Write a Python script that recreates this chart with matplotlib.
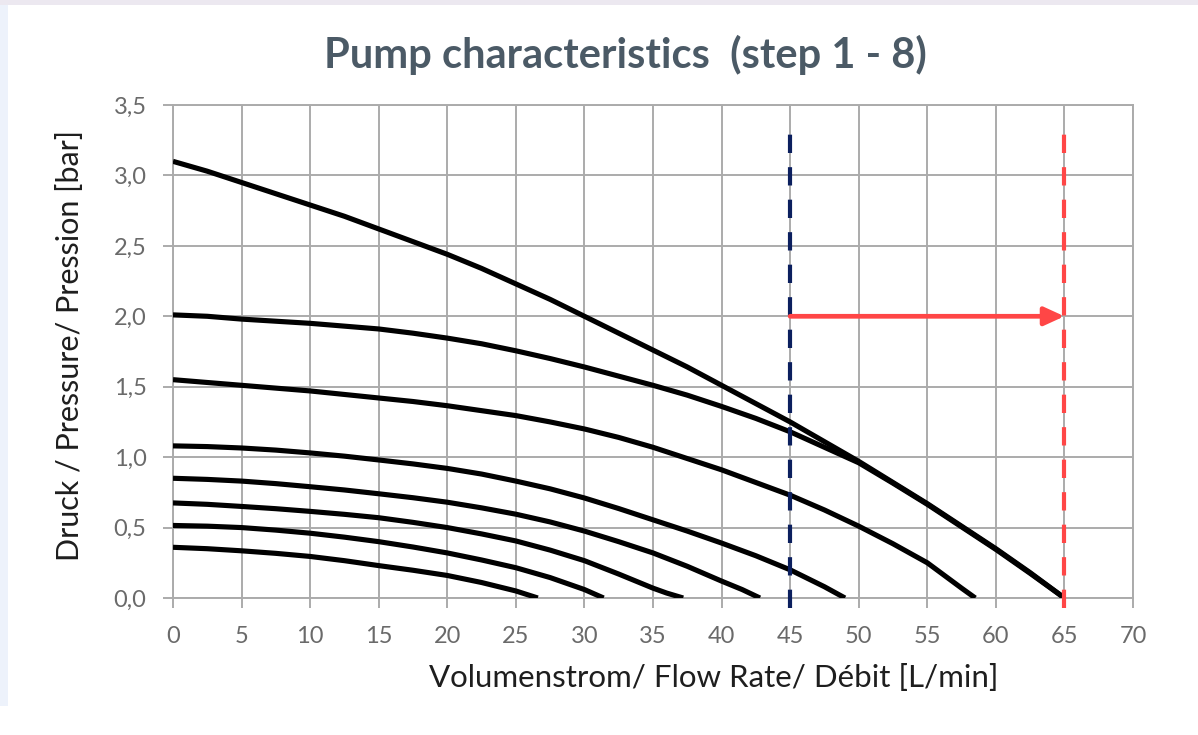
import numpy as np
import matplotlib
matplotlib.use("Agg")
import matplotlib.pyplot as plt
from matplotlib.patches import Rectangle

# pump curves, step 1 (top) to step 8 (bottom) - flow [L/min], pressure [bar]
x1 = [0, 2.5, 5, 7.5, 10, 12.5, 15, 17.5, 20, 22.5, 25, 27.5, 30, 32.5, 35, 37.5, 40, 42.5, 45,
      47.5, 50, 52.5, 55, 57.5, 60, 62.5, 65]
y1 = [3.10, 3.03, 2.95, 2.87, 2.79, 2.71, 2.62, 2.53, 2.44, 2.34, 2.23, 2.12, 2.00, 1.88, 1.76,
      1.64, 1.51, 1.38, 1.25, 1.11, 0.97, 0.82, 0.67, 0.51, 0.35, 0.18, 0.0]
x2 = [0, 2.5, 5, 7.5, 10, 12.5, 15, 17.5, 20, 22.5, 25, 27.5, 30, 32.5, 35, 37.5, 40, 42.5, 45,
      47.5, 50, 52.5, 55, 57.5, 60, 62.5, 65]
y2 = [2.01, 2.00, 1.98, 1.965, 1.95, 1.93, 1.91, 1.88, 1.845, 1.805, 1.755, 1.70, 1.64, 1.575,
      1.51, 1.44, 1.36, 1.275, 1.18, 1.07, 0.96, 0.815, 0.665, 0.505, 0.345, 0.175, 0.0]
x3 = [0, 2.5, 5, 7.5, 10, 12.5, 15, 17.5, 20, 22.5, 25, 27.5, 30, 32.5, 35, 37.5, 40, 42.5, 45,
      47.5, 50, 52.5, 55, 57.5, 58.5]
y3 = [1.55, 1.53, 1.51, 1.49, 1.47, 1.445, 1.42, 1.395, 1.365, 1.33, 1.295, 1.25, 1.20, 1.14,
      1.07, 0.99, 0.91, 0.82, 0.73, 0.625, 0.51, 0.385, 0.25, 0.07, 0.0]
x4 = [0, 2.5, 5, 7.5, 10, 12.5, 15, 17.5, 20, 22.5, 25, 27.5, 30, 32.5, 35, 37.5, 40, 42.5, 45,
      47.5, 49]
y4 = [1.08, 1.075, 1.065, 1.05, 1.03, 1.007, 0.98, 0.952, 0.92, 0.88, 0.83, 0.775, 0.71, 0.635,
      0.555, 0.475, 0.39, 0.30, 0.20, 0.08, 0.0]
x5 = [0, 2.5, 5, 7.5, 10, 12.5, 15, 17.5, 20, 22.5, 25, 27.5, 30, 32.5, 35, 37.5, 40, 41.5, 42.8]
y5 = [0.85, 0.842, 0.83, 0.812, 0.79, 0.767, 0.74, 0.712, 0.68, 0.64, 0.595, 0.54, 0.475, 0.40,
      0.32, 0.225, 0.12, 0.06, 0.0]
x6 = [0, 2.5, 5, 7.5, 10, 12.5, 15, 17.5, 20, 22.5, 25, 27.5, 30, 32.5, 35, 36, 37.2]
y6 = [0.675, 0.665, 0.65, 0.634, 0.615, 0.594, 0.57, 0.537, 0.50, 0.455, 0.405, 0.34, 0.265,
      0.17, 0.07, 0.035, 0.0]
x7 = [0, 2.5, 5, 7.5, 10, 12.5, 15, 17.5, 20, 22.5, 25, 27.5, 30, 31.4]
y7 = [0.515, 0.51, 0.50, 0.482, 0.46, 0.432, 0.40, 0.362, 0.32, 0.27, 0.215, 0.145, 0.06, 0.0]
x8 = [0, 2.5, 5, 7.5, 10, 12.5, 15, 17.5, 20, 22.5, 25, 26.6]
y8 = [0.36, 0.35, 0.335, 0.317, 0.295, 0.265, 0.23, 0.197, 0.16, 0.11, 0.05, 0.0]
courbes = [(x1, y1), (x2, y2), (x3, y3), (x4, y4), (x5, y5), (x6, y6), (x7, y7), (x8, y8)]

debitActuel = 45
debitMax = 65
pressionFleche = 2.0
hautLignes = 3.34

xticks = np.arange(0, 71, 5)
yticks = np.arange(0, 3.51, 0.5)
yticklabels = ['0,0', '0,5', '1,0', '1,5', '2,0', '2,5', '3,0', '3,5']

fig = plt.figure(figsize=(11.98, 7.35), dpi=100)
fig.patch.set_facecolor('white')
# light frame around the card
fig.patches.append(Rectangle((0, 1 - 5 / 735), 1, 5 / 735, transform=fig.transFigure,
                             facecolor='#ece8f0', edgecolor='none'))
fig.patches.append(Rectangle((0, 0.04), 8 / 1198, 0.96 - 5 / 735, transform=fig.transFigure,
                             facecolor='#edf2fb', edgecolor='none'))

ax = fig.add_axes([173 / 1198, 1 - 598 / 735, 960 / 1198, 493 / 735])
grille = '#ababab'
for (xs, ys) in courbes:
    ax.plot(xs, ys, color='black', lw=3.7, solid_capstyle='butt', solid_joinstyle='round', zorder=3)

ax.plot([debitActuel, debitActuel], [-0.07, hautLignes], color='#0b1f5e', lw=3.0,
        dashes=(4.4, 3.4), clip_on=False, zorder=4)
ax.plot([debitMax, debitMax], [-0.07, hautLignes], color='#ff4646', lw=3.0,
        dashes=(4.4, 3.4), clip_on=False, zorder=4)
ax.annotate('', xy=(debitMax, pressionFleche), xytext=(debitActuel, pressionFleche),
            arrowprops=dict(arrowstyle='-|>,head_length=1.2,head_width=0.55', color='#ff4646',
                            lw=3.4, shrinkA=0, shrinkB=0), zorder=5)

ax.set_xlim(0, 70)
ax.set_ylim(0, 3.5)
ax.set_xticks(xticks)
ax.set_yticks(yticks)
ax.set_yticklabels(yticklabels)
ax.grid(True, color=grille, lw=1.4)
for s in ax.spines.values():
    s.set_color(grille)
    s.set_linewidth(1.4)
ax.tick_params(length=7, width=1.4, color=grille, labelsize=17, labelcolor='#6a6a6a')
ax.tick_params(axis='x', pad=13)
ax.tick_params(axis='y', pad=12)
for lab in ax.get_xticklabels() + ax.get_yticklabels():
    lab.set_family('Lato')

ax.set_xlabel('Volumenstrom/ Flow Rate/ Débit [L/min]', fontsize=22.5, family='Lato',
              color='#1e1e1e')
ax.xaxis.set_label_coords(0.5635, -0.162)
ax.set_ylabel('Druck / Pressure/ Pression [bar]', fontsize=22, family='Lato',
              color='#1e1e1e')
ax.yaxis.set_label_coords(-0.107, 0.512)
ax.xaxis.label.set_va('center')
ax.yaxis.label.set_va('center')

fig.text(0.522, 1 - 55 / 735, 'Pump characteristics  (step 1 - 8)', ha='center', va='center',
         fontsize=30, fontweight='bold', family='Lato', color='#4b5a66')

fig.savefig('out.png', dpi=100, facecolor=fig.get_facecolor())
